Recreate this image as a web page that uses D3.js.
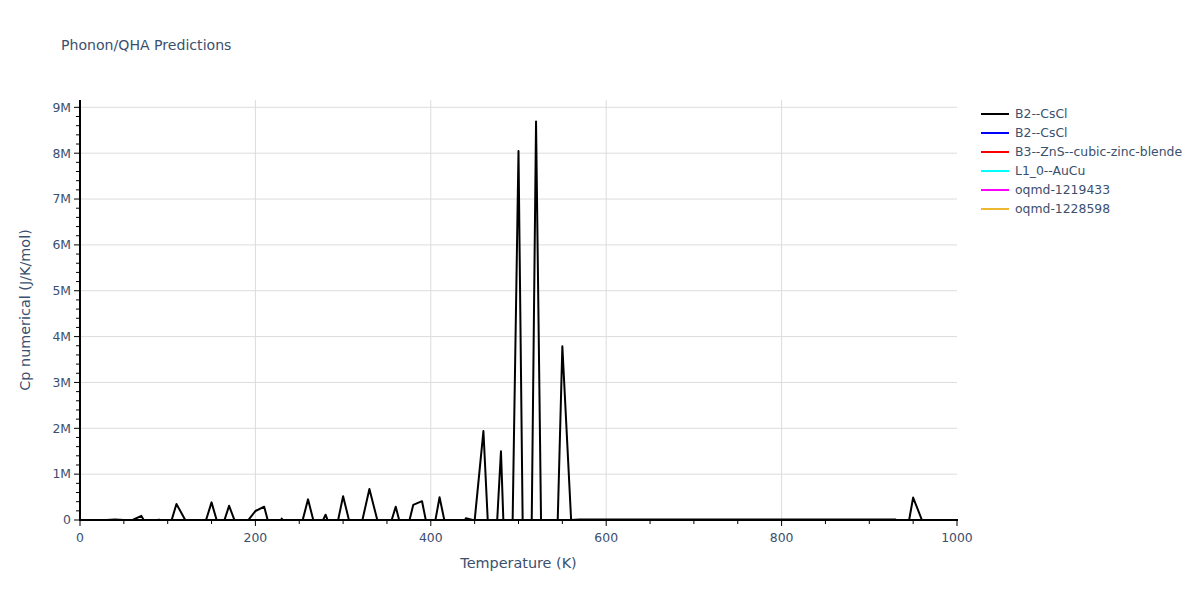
<!DOCTYPE html>
<html>
<head>
<meta charset="utf-8">
<script src="https://d3js.org/d3.v7.min.js"></script>
<style>
	body { margin: 0; background: #fff; }
	text { font-family: "DejaVu Sans", verdana, arial, sans-serif; }
</style>
</head>
<body>
<div id="chart"></div>
<script>
// data //
// temperatures (K) for the first B2--CsCl run
var temps = [0, 10, 20, 30, 40, 50, 60, 70, 80, 90,
	100, 110, 120, 130, 140, 150, 160, 170, 180, 190,
	200, 210, 220, 230, 240, 250, 260, 270, 280, 290,
	300, 310, 320, 330, 340, 350, 360, 370, 380, 390,
	400, 410, 420, 430, 440, 450, 460, 470, 480, 490,
	500, 510, 520, 530, 540, 550, 560, 570, 580, 590,
	600, 610, 620, 630, 640, 650, 660, 670, 680, 690,
	700, 710, 720, 730, 740, 750, 760, 770, 780, 790,
	800, 810, 820, 830, 840, 850, 860, 870, 880, 890,
	900, 910, 920, 930, 940, 950, 960, 970, 980, 990]

// Cp numerical (J/K/mol), noisy numerical derivative
var cpB2a = [0, 0, 0, 0, 10000, 0, 0, 90000, -250000, 10000,
	-290000, 350000, 0, -100000, -230000, 385000, -280000, 310000, -200000, -50000,
	196000, 290000, -430000, 30000, -300000, -290000, 450000, -300000, 116000, -400000,
	520000, -260000, -170000, 675000, -75000, -340000, 290000, -450000, 330000, 410000,
	-550000, 495000, -420000, -500000, 40000, -10000, 1940000, -2000000, 1500000, -4000000,
	8050000, -9000000, 8690000, -6600000, -3400000, 3790000, 0, 11000, 12000, 11000,
	12000, 11000, 12000, 12000, 13000, 12000, 12000, 11000, 12000, 12000,
	13000, 12000, 12000, 12000, 13000, 12000, 12000, 12000, 13000, 12000,
	12000, 12000, 13000, 12000, 13000, 12000, 12000, 12000, 13000, 12000,
	12000, 13000, 12000, 12000, -580000, 490000, 0, 0, 0, 0]

// the other runs stay close to zero on this scale
var tempsOther = [0, 100, 200, 300, 400, 500, 600, 700, 800, 900, 990]
var cpB2b = [0, 17.2, 21.9, 23.4, 24.1, 24.5, 24.8, 25.0, 25.2, 25.4, 25.5]
var cpB3 = [0, 15.8, 21.1, 23.0, 23.8, 24.3, 24.6, 24.9, 25.1, 25.3, 25.4]
var cpL10 = [0, 16.5, 21.5, 23.2, 24.0, 24.4, 24.7, 24.9, 25.1, 25.3, 25.5]
var cp1219433 = [0, 18.0, 22.3, 23.6, 24.2, 24.6, 24.9, 25.1, 25.3, 25.4, 25.6]
var cp1228598 = [0, 17.6, 22.0, 23.5, 24.1, 24.5, 24.8, 25.0, 25.2, 25.4, 25.5]

var seriesNames = ['B2--CsCl', 'B2--CsCl', 'B3--ZnS--cubic-zinc-blende', 'L1_0--AuCu', 'oqmd-1219433', 'oqmd-1228598']
var xTicks = [0, 200, 400, 600, 800, 1000]
var yTicks = [0, 1e6, 2e6, 3e6, 4e6, 5e6, 6e6, 7e6, 8e6, 9e6]

var series = [
	{ name: seriesNames[0], x: temps, y: cpB2a, color: '#000000' },
	{ name: seriesNames[1], x: tempsOther, y: cpB2b, color: '#0000ff' },
	{ name: seriesNames[2], x: tempsOther, y: cpB3, color: '#ff0000' },
	{ name: seriesNames[3], x: tempsOther, y: cpL10, color: '#00ffff' },
	{ name: seriesNames[4], x: tempsOther, y: cp1219433, color: '#ff00ff' },
	{ name: seriesNames[5], x: tempsOther, y: cp1228598, color: '#ecb731' }
]

// layout
var visWidth = 1200,
		visHeight = 600,
		plotLeft = 80,
		plotRight = 957,
		plotTop = 100,
		plotBottom = 520,
		fontColor = '#3b4f6e',
		gridColor = '#dcdcdc'

var vis = d3.select('#chart')
	.append('svg')
		.attr('width', visWidth)
		.attr('height', visHeight)

var defs = vis.append('defs')
defs.append('clipPath')
		.attr('id', 'plot_clip')
	.append('rect')
		.attr('x', plotLeft)
		.attr('y', plotTop)
		.attr('width', plotRight - plotLeft)
		.attr('height', plotBottom - plotTop)

// scales
var x = d3.scaleLinear()
	.domain([0, 1000])
	.range([plotLeft, plotRight])

var y = d3.scaleLinear()
	.domain([0, 9.16e6])
	.range([plotBottom, plotTop])

// grid
vis.append('g')
	.selectAll('line')
		.data(xTicks.filter(function(d) { return d > 0 && d < 1000 })).enter()
	.append('line')
		.attr('x1', function(d) { return x(d) })
		.attr('x2', function(d) { return x(d) })
		.attr('y1', plotTop)
		.attr('y2', plotBottom)
		.attr('stroke', gridColor)
		.attr('stroke-width', 1)

vis.append('g')
	.selectAll('line')
		.data(yTicks.filter(function(d) { return d > 0 })).enter()
	.append('line')
		.attr('x1', plotLeft)
		.attr('x2', plotRight)
		.attr('y1', function(d) { return y(d) })
		.attr('y2', function(d) { return y(d) })
		.attr('stroke', gridColor)
		.attr('stroke-width', 1)

// traces
var line = d3.line()
	.x(function(d) { return x(d[0]) })
	.y(function(d) { return y(d[1]) })

vis.append('g')
		.attr('clip-path', 'url(#plot_clip)')
	.selectAll('path')
		.data(series).enter()
	.append('path')
		.attr('d', function(s) { return line(d3.zip(s.x, s.y)) })
		.attr('fill', 'none')
		.attr('stroke', function(s) { return s.color })
		.attr('stroke-width', 2)
		.attr('stroke-linejoin', 'round')

// axes
var xMinor = d3.range(0, 1001, 50)
var yMinor = d3.range(0, 9.1e6, 2e5)

var xAxis = vis.append('g')
	.attr('transform', 'translate(0,' + plotBottom + ')')
xAxis.selectAll('.minor')
		.data(xMinor).enter()
	.append('line')
		.attr('x1', function(d) { return x(d) })
		.attr('x2', function(d) { return x(d) })
		.attr('y1', 0)
		.attr('y2', function(d) { return d % 200 === 0 ? 6 : 4 })
		.attr('stroke', '#000')
xAxis.selectAll('text')
		.data(xTicks).enter()
	.append('text')
		.attr('x', function(d) { return x(d) })
		.attr('y', 22)
		.attr('text-anchor', 'middle')
		.attr('fill', fontColor)
		.style('font-size', '12.4px')
		.text(function(d) { return d })
xAxis.append('line')
		.attr('x1', plotLeft - 1)
		.attr('x2', plotRight + 1)
		.attr('stroke', '#000')
		.attr('stroke-width', 2)

var yAxis = vis.append('g')
	.attr('transform', 'translate(' + plotLeft + ',0)')
yAxis.selectAll('.minor')
		.data(yMinor).enter()
	.append('line')
		.attr('x1', 0)
		.attr('x2', function(d) { return Math.round(d / 2e5) % 5 === 0 ? -6 : -4 })
		.attr('y1', function(d) { return y(d) })
		.attr('y2', function(d) { return y(d) })
		.attr('stroke', '#000')
yAxis.selectAll('text')
		.data(yTicks).enter()
	.append('text')
		.attr('x', -9)
		.attr('y', function(d) { return y(d) })
		.attr('dy', '0.35em')
		.attr('text-anchor', 'end')
		.attr('fill', fontColor)
		.style('font-size', '12.4px')
		.text(function(d) { return d === 0 ? '0' : (d / 1e6) + 'M' })
yAxis.append('line')
		.attr('y1', plotTop)
		.attr('y2', plotBottom + 1)
		.attr('stroke', '#000')
		.attr('stroke-width', 2)

// titles
vis.append('text')
		.attr('x', 61)
		.attr('y', 50)
		.attr('fill', fontColor)
		.style('font-size', '14.1px')
		.text('Phonon/QHA Predictions')

vis.append('text')
		.attr('x', (plotLeft + plotRight) / 2)
		.attr('y', 568)
		.attr('text-anchor', 'middle')
		.attr('fill', fontColor)
		.style('font-size', '14.4px')
		.text('Temperature (K)')

vis.append('text')
		.attr('transform', 'translate(30,' + ((plotTop + plotBottom) / 2) + ') rotate(-90)')
		.attr('text-anchor', 'middle')
		.attr('fill', fontColor)
		.style('font-size', '14.4px')
		.text('Cp numerical (J/K/mol)')

// legend
var legend = vis.append('g')
	.attr('transform', 'translate(981,114)')
var legendItem = legend.selectAll('g')
		.data(series).enter()
	.append('g')
		.attr('transform', function(d, i) { return 'translate(0,' + (i * 19) + ')' })
legendItem.append('line')
		.attr('x1', 0)
		.attr('x2', 28)
		.attr('stroke', function(d) { return d.color })
		.attr('stroke-width', 2)
legendItem.append('text')
		.attr('x', 34)
		.attr('dy', '0.35em')
		.attr('fill', fontColor)
		.style('font-size', '12.4px')
		.text(function(d) { return d.name })
</script>
</body>
</html>
